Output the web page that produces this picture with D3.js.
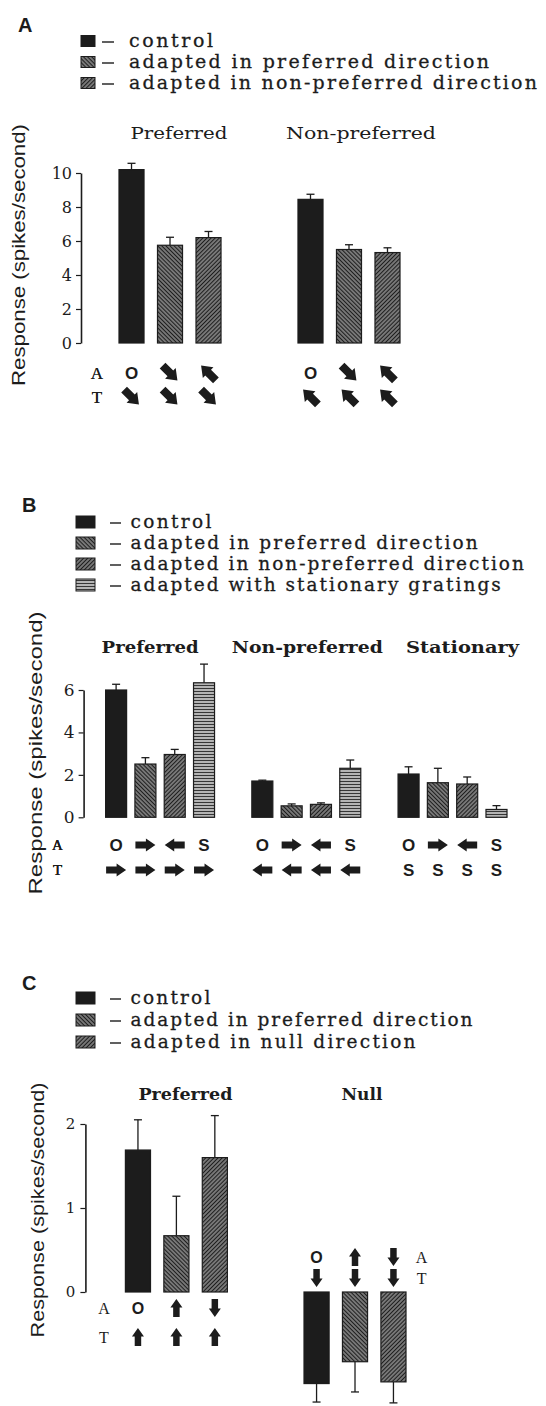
<!DOCTYPE html>
<html>
<head>
<meta charset="utf-8">
<script src="https://cdn.jsdelivr.net/npm/d3@7"></script>
<style>
  body { margin: 0; background: #fff; }
  svg { display: block; }
</style>
</head>
<body>
<svg id="fig" width="546" height="1406"></svg>
<script>
// ---------- Panel A: preferred / non-preferred test directions ----------
const aGroups = ["Preferred", "Non-preferred"];
const aConditions = ["control", "pref", "nonpref"];
const aMeans = [[10.2, 5.75, 6.2], [8.45, 5.5, 5.32]];
const aSem = [[0.37, 0.47, 0.36], [0.3, 0.28, 0.28]];
const aTicks = [0, 2, 4, 6, 8, 10];
const aAdapt = [["O", "DR", "UL"], ["O", "DR", "UL"]];
const aTest = [["DR", "DR", "DR"], ["UL", "UL", "UL"]];
const aLegend = ["control", "adapted in preferred direction", "adapted in non-preferred direction"];

// ---------- Panel B: adds stationary gratings ----------
const bGroups = ["Preferred", "Non-preferred", "Stationary"];
const bConditions = ["control", "pref", "nonpref", "stat"];
const bMeans = [[6.0, 2.51, 2.96, 6.34], [1.71, 0.54, 0.61, 2.31], [2.04, 1.63, 1.57, 0.37]];
const bSem = [[0.27, 0.3, 0.24, 0.88], [0.04, 0.09, 0.07, 0.39], [0.34, 0.68, 0.33, 0.18]];
const bTicks = [0, 2, 4, 6];
const bAdapt = [["O", "R", "L", "S"], ["O", "R", "L", "S"], ["O", "R", "L", "S"]];
const bTest = [["R", "R", "R", "R"], ["L", "L", "L", "L"], ["S", "S", "S", "S"]];
const bLegend = ["control", "adapted in preferred direction", "adapted in non-preferred direction", "adapted with stationary gratings"];

// ---------- Panel C: preferred vs null direction ----------
const cGroups = ["Preferred", "Null"];
const cConditions = ["control", "pref", "nonpref"];
const cMeans = [[1.69, 0.67, 1.6], [-1.09, -0.83, -1.07]];
const cSem = [[0.36, 0.47, 0.5], [0.22, 0.36, 0.25]];
const cTicks = [0, 1, 2];
const cAdapt = [["O", "U", "D"], ["O", "U", "D"]];
const cTest = [["U", "U", "U"], ["D", "D", "D"]];
const cLegend = ["control", "adapted in preferred direction", "adapted in null direction"];

const INK = "#1c1c1c";
const svg = d3.select("#fig");
svg.append("rect").attr("width", 546).attr("height", 1406).attr("fill", "#fff");
const defs = svg.append("defs");

// striped fills for the adapted conditions
function stripes(id, angle, period, bg, fg, w) {
  const p = defs.append("pattern")
    .attr("id", id)
    .attr("patternUnits", "userSpaceOnUse")
    .attr("width", period).attr("height", period)
    .attr("patternTransform", `rotate(${angle})`);
  p.append("rect").attr("width", period).attr("height", period).attr("fill", bg);
  p.append("line")
    .attr("x1", 0).attr("x2", period)
    .attr("y1", period / 2).attr("y2", period / 2)
    .attr("stroke", fg).attr("stroke-width", w);
}
stripes("hatch-pref", 45, 2.9, "#b4b4b4", "#1e1e1e", 1.75);
stripes("hatch-non", -45, 2.9, "#b4b4b4", "#1e1e1e", 1.75);
stripes("hatch-stat", 0, 3, "#c2c2c2", "#363636", 1.2);

const fills = {
  control: INK,
  pref: "url(#hatch-pref)",
  nonpref: "url(#hatch-non)",
  stat: "url(#hatch-stat)"
};

// fat block arrow pointing right, centred on the origin
function arrowPath(len, hgt) {
  const L = len / 2, H = hgt / 2, s = hgt * 0.27;
  return `M${-L},${-s}H${L * 0.05}V${-H}L${L},0L${L * 0.05},${H}V${s}H${-L}Z`;
}
const arrowAngle = { R: 0, L: 180, U: -90, D: 90, DR: 45, UL: -135 };

function marker(g, token, x, y, opt) {
  if (token === "O" || token === "S") {
    g.append("text")
      .attr("x", x).attr("y", y)
      .attr("dy", "0.36em")
      .attr("text-anchor", "middle")
      .attr("font-family", "Liberation Sans, Arial, sans-serif")
      .attr("font-weight", "bold")
      .attr("font-size", opt.glyphSize)
      .attr("fill", INK)
      .text(token);
  } else {
    g.append("path")
      .attr("d", arrowPath(opt.arrowLen, opt.arrowHgt))
      .attr("transform", `translate(${x},${y}) rotate(${arrowAngle[token]})`)
      .attr("fill", INK);
  }
}

function rowLabel(g, txt, x, y, size) {
  g.append("text")
    .attr("x", x).attr("y", y).attr("dy", "0.36em")
    .attr("text-anchor", "middle")
    .attr("font-family", "Liberation Serif, Times New Roman, serif")
    .attr("font-size", size)
    .attr("fill", INK)
    .text(txt);
}

// legend rows: swatch, short dash, then the label set at a typewriter pitch
function legend(g, items, keys, o) {
  items.forEach((label, i) => {
    const cy = o.y0 + i * o.dy;
    g.append("rect")
      .attr("x", o.sx).attr("y", cy - o.sh / 2)
      .attr("width", o.sw).attr("height", o.sh)
      .attr("fill", fills[keys[i]])
      .attr("stroke", INK).attr("stroke-width", 1);
    g.append("line")
      .attr("x1", o.dash[0]).attr("x2", o.dash[1])
      .attr("y1", cy + 1).attr("y2", cy + 1)
      .attr("stroke", INK).attr("stroke-width", 1.4);
    g.append("text")
      .attr("x", o.tx).attr("y", cy).attr("dy", "0.33em")
      .attr("font-family", "DejaVu Serif, serif")
      .attr("font-size", o.size)
      .attr("fill", INK)
      .attr("stroke", INK).attr("stroke-width", 0.3)
      .attr("textLength", label.length * o.pitch)
      .attr("lengthAdjust", "spacing")
      .text(label);
  });
}

function panelLetter(letter, x, y) {
  svg.append("text")
    .attr("x", x).attr("y", y)
    .attr("font-family", "Liberation Sans, Arial, sans-serif")
    .attr("font-weight", "bold")
    .attr("font-size", 20)
    .attr("fill", INK)
    .text(letter);
}

function yLabel(x, y, size, len) {
  svg.append("text")
    .attr("transform", `translate(${x},${y}) rotate(-90)`)
    .attr("text-anchor", "middle")
    .attr("dy", "0.35em")
    .attr("font-family", "Liberation Sans, Arial, sans-serif")
    .attr("font-size", size)
    .attr("textLength", len)
    .attr("lengthAdjust", "spacingAndGlyphs")
    .attr("fill", INK)
    .text("Response  (spikes/second)");
}

function barPanel(o) {
  const g = svg.append("g");
  const y = d3.scaleLinear().domain([o.ticks[0], o.ticks[o.ticks.length - 1]]).range(o.yRange);
  const outer = d3.scaleBand().domain(o.groups).range(o.xRange).paddingInner(o.outerPad).paddingOuter(0);
  const inner = d3.scaleBand().domain(d3.range(o.conditions.length))
    .range([0, outer.bandwidth()]).paddingInner(o.innerPad).paddingOuter(0);

  // axis
  const ax = g.append("g")
    .attr("transform", `translate(${o.axisX},0)`)
    .call(d3.axisLeft(y).tickValues(o.ticks).tickSize(5).tickSizeOuter(0).tickPadding(o.tickPad).tickFormat(d3.format("d")));
  ax.select(".domain").attr("stroke", INK).attr("stroke-width", 1.6);
  ax.selectAll(".tick line").attr("stroke", INK).attr("stroke-width", 1.2);
  ax.selectAll(".tick text")
    .attr("font-family", "DejaVu Serif, serif")
    .attr("font-size", o.tickSize)
    .attr("fill", INK);

  o.groups.forEach((grp, gi) => {
    const gx = outer(grp);
    // group title
    g.append("text")
      .attr("x", gx + outer.bandwidth() / 2 + o.titleShift[gi])
      .attr("y", o.titleY)
      .attr("text-anchor", "middle")
      .attr("font-family", "DejaVu Serif, serif")
      .attr("font-weight", o.titleWeight)
      .attr("font-size", o.titleSize)
      .attr("textLength", o.titleLen[gi])
      .attr("lengthAdjust", "spacingAndGlyphs")
      .attr("fill", INK)
      .text(grp);

    o.conditions.forEach((cond, ci) => {
      const x0 = gx + inner(ci);
      const w = inner.bandwidth();
      const cx = x0 + w / 2;
      const m = o.means[gi][ci];
      const e = o.sem[gi][ci];
      const tip = m >= 0 ? m + e : m - e;
      // error bar (one-sided, away from zero)
      g.append("line")
        .attr("x1", cx).attr("x2", cx)
        .attr("y1", y(m)).attr("y2", y(tip))
        .attr("stroke", INK).attr("stroke-width", 1.3);
      g.append("line")
        .attr("x1", cx - 4).attr("x2", cx + 4)
        .attr("y1", y(tip)).attr("y2", y(tip))
        .attr("stroke", INK).attr("stroke-width", 1.3);
      // bar
      g.append("rect")
        .attr("x", x0)
        .attr("y", Math.min(y(0), y(m)))
        .attr("width", w)
        .attr("height", Math.abs(y(m) - y(0)))
        .attr("fill", fills[cond])
        .attr("stroke", INK).attr("stroke-width", 1.2);

      // adapt / test symbols
      const rows = o.rowY(gi);
      marker(g, o.adapt[gi][ci], cx, rows[0], o);
      marker(g, o.test[gi][ci], cx, rows[1], o);
    });
    const rows = o.rowY(gi);
    const lx = o.rowLabelX(gi);
    rowLabel(g, "A", lx, rows[0], o.rowLabelSize);
    rowLabel(g, "T", lx, rows[1], o.rowLabelSize);
  });
  return { y, outer, inner };
}

// ---------------- Panel A ----------------
panelLetter("A", 18, 32);
legend(svg, aLegend, aConditions, { y0: 41, dy: 21, sx: 81, sw: 14, sh: 11, dash: [102, 114], tx: 129, size: 19, pitch: 12.0 });
yLabel(19, 255, 18, 262);
barPanel({
  groups: aGroups, conditions: aConditions, means: aMeans, sem: aSem, ticks: aTicks,
  adapt: aAdapt, test: aTest,
  yRange: [343, 173], xRange: [119, 400], outerPad: 0.43, innerPad: 0.35,
  axisX: 81, tickPad: 4, tickSize: 16,
  titleY: 139, titleSize: 17, titleWeight: "normal", titleShift: [9, 12], titleLen: [97, 150],
  rowY: () => [373, 397], rowLabelX: () => 97, rowLabelSize: 17,
  glyphSize: 17, arrowLen: 21, arrowHgt: 15
});

// ---------------- Panel B ----------------
panelLetter("B", 22, 512);
legend(svg, bLegend, bConditions, { y0: 522, dy: 21, sx: 76, sw: 19, sh: 12, dash: [110, 121], tx: 130.5, size: 18.5, pitch: 11.57 });
yLabel(36, 753, 18, 283);
barPanel({
  groups: bGroups, conditions: bConditions, means: bMeans, sem: bSem, ticks: bTicks,
  adapt: bAdapt, test: bTest,
  yRange: [817.3, 690], xRange: [105.6, 507], outerPad: 0.255, innerPad: 0.283,
  axisX: 83.6, tickPad: 4, tickSize: 17,
  titleY: 653, titleSize: 16, titleWeight: "bold", titleShift: [-10, 1, 10], titleLen: [97, 151, 113],
  rowY: () => [845, 870], rowLabelX: () => 57.5, rowLabelSize: 15,
  glyphSize: 17, arrowLen: 20, arrowHgt: 13
});

// ---------------- Panel C ----------------
panelLetter("C", 22, 990);
legend(svg, cLegend, cConditions, { y0: 998, dy: 22, sx: 76, sw: 19, sh: 12, dash: [110, 121], tx: 130.5, size: 18.5, pitch: 11.4 });
yLabel(38, 1210, 18, 255);
barPanel({
  groups: cGroups, conditions: cConditions, means: cMeans, sem: cSem, ticks: cTicks,
  adapt: cAdapt, test: cTest,
  yRange: [1292, 1124], xRange: [125.4, 406], outerPad: 0.429, innerPad: 0.347,
  axisX: 85.4, tickPad: 5, tickSize: 15,
  titleY: 1100, titleSize: 16, titleWeight: "bold", titleShift: [9, 7], titleLen: [94, 41],
  rowY: gi => gi === 0 ? [1308, 1337] : [1257, 1278],
  rowLabelX: gi => gi === 0 ? 104 : 421.6, rowLabelSize: 16,
  glyphSize: 16, arrowLen: 18, arrowHgt: 12
});
</script>
</body>
</html>
